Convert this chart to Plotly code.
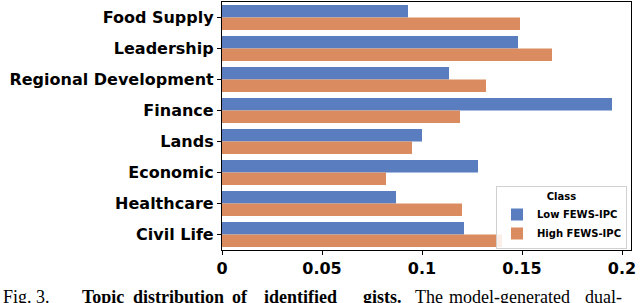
import plotly.graph_objects as go

categories = ["Food Supply", "Leadership", "Regional Development", "Finance",
              "Lands", "Economic", "Healthcare", "Civil Life"]
low_fews = [0.093, 0.148, 0.1135, 0.195, 0.100, 0.128, 0.087, 0.121]
high_fews = [0.149, 0.165, 0.132, 0.119, 0.095, 0.082, 0.120, 0.140]
x_ticks = [0, 0.05, 0.1, 0.15, 0.2]
x_tick_labels = ["0", "0.05", "0.1", "0.15", "0.2"]

# caption words (text, bold?)
caption_words = [("Fig.", False), ("3.", False), ("Topic", True), ("distribution", True),
                 ("of", True), ("identified", True), ("gists.", True), ("The", False),
                 ("model-generated", False), ("dual-", False)]
caption_word_px = [2, 35, 81, 132, 231, 263, 362, 414, 448, 584]

BLUE = "#597DBF"
ORANGE = "#DA8B5F"

fig = go.Figure()
fig.add_trace(go.Bar(y=categories, x=low_fews, orientation="h", name="<b>Low FEWS-IPC</b>",
                     marker=dict(color=BLUE, line=dict(width=0))))
fig.add_trace(go.Bar(y=categories, x=high_fews, orientation="h", name="<b>High FEWS-IPC</b>",
                     marker=dict(color=ORANGE, line=dict(width=0))))

L, R, T, B = 222, 9, 2, 53
PW, PH = 640 - L - R, 303 - T - B

sans = "DejaVu Sans"
fig.update_layout(
    width=640, height=303,
    margin=dict(l=L, r=R, t=T, b=B, autoexpand=False),
    paper_bgcolor="white", plot_bgcolor="white",
    barmode="group", bargap=0.2, bargroupgap=0,
    font=dict(family=sans, color="black"),
    legend=dict(
        title=dict(text="<b>Class</b>", side="top center", font=dict(size=10, family=sans)),
        font=dict(size=10, family=sans),
        x=1 - 4 / PW, y=1 / PH, xanchor="right", yanchor="bottom",
        bgcolor="rgba(255,255,255,0.85)", bordercolor="#d0d0d0", borderwidth=1,
        itemwidth=30, tracegroupgap=0,
    ),
    xaxis=dict(range=[0, 0.2045], tickvals=x_ticks, ticktext=[f"<b>{t}</b>" for t in x_tick_labels],
               tickfont=dict(size=16, family=sans), ticks="outside", ticklen=4, tickwidth=1,
               tickcolor="black", showline=True, linecolor="black", linewidth=1.2, mirror=True,
               showgrid=False, zeroline=False, automargin=False),
    yaxis=dict(autorange="reversed", tickvals=categories,
               ticktext=[f"<b>{c}</b>" for c in categories],
               tickfont=dict(size=16, family=sans), ticks="outside", ticklen=4, tickwidth=1,
               tickcolor="black", showline=True, linecolor="black", linewidth=1.2, mirror=True,
               showgrid=False, automargin=False),
)

cap_font = dict(family="Liberation Serif", size=18, color="black")
cap_y = -(285.5 - (T + PH)) / PH
for (word, is_bold), px in zip(caption_words, caption_word_px):
    fig.add_annotation(text=f"<b>{word}</b>" if is_bold else word,
                       xref="x domain", yref="y domain",
                       x=(px - L) / PW, y=cap_y, xanchor="left", yanchor="top",
                       showarrow=False, font=cap_font, borderpad=0)

fig.write_html("out.html", config={"displayModeBar": False},
               post_script="document.body.style.margin='0px';")
